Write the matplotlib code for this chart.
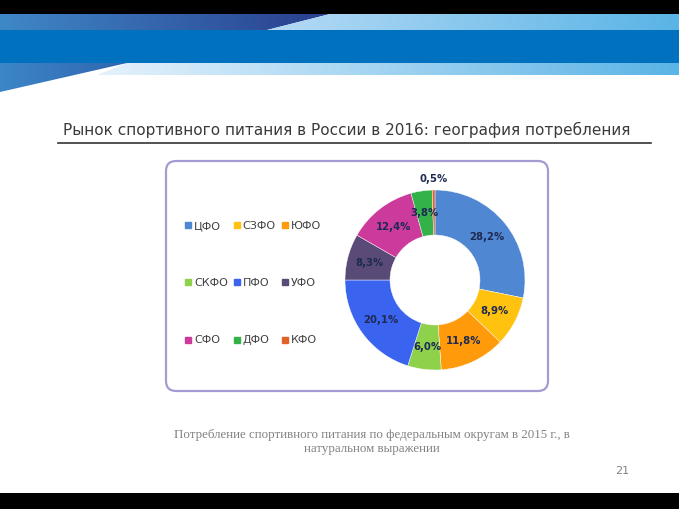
import numpy as np
import matplotlib
matplotlib.use("Agg")
import matplotlib.pyplot as plt
from matplotlib.patches import Polygon, Rectangle, FancyBboxPatch
from matplotlib.lines import Line2D

regions = ["ЦФО", "СЗФО", "ЮФО", "СКФО", "ПФО", "УФО", "СФО", "ДФО", "КФО"]
shares = [28.2, 8.9, 11.8, 6.0, 20.1, 8.3, 12.4, 3.8, 0.5]
colors = ["#4F87D2", "#FFC20E", "#FF9A0A", "#8ED14B", "#3A63F0",
          "#5A4A78", "#CC3A9C", "#34B24A", "#E2632A"]
title = "Рынок спортивного питания в России в 2016: география потребления"
caption = ("Потребление спортивного питания по федеральным округам в 2015 г., в\n"
           "натуральном выражении")
page_no = "21"

W, H = 679, 509
fig = plt.figure(figsize=(W / 100, H / 100), dpi=100)
fig.patch.set_facecolor("white")

bg = fig.add_axes([0, 0, 1, 1])
bg.set_xlim(0, W)
bg.set_ylim(H, 0)
bg.axis("off")

def grad_fill(poly_pts, c0, c1, x0, x1):
    poly = Polygon(poly_pts, closed=True, facecolor="none", edgecolor="none")
    bg.add_patch(poly)
    g = np.linspace(0, 1, 256)[None, :, None]
    a = np.array(matplotlib.colors.to_rgb(c0))[None, None, :]
    b = np.array(matplotlib.colors.to_rgb(c1))[None, None, :]
    img = a * (1 - g) + b * g
    ys = [p[1] for p in poly_pts]
    im = bg.imshow(img, extent=[x0, x1, max(ys), min(ys)], aspect="auto",
                   interpolation="bilinear", zorder=1)
    im.set_clip_path(poly)

# header
bg.add_patch(Rectangle((0, 0), W, 14, facecolor="black", edgecolor="none", zorder=2))
grad_fill([(0, 14), (330, 14), (267, 30), (0, 30)], "#3F88C8", "#2A3F8E", 0, 330)
grad_fill([(330, 14), (W, 14), (W, 30), (267, 30)], "#B5DAF5", "#5AB4E6", 267, W)
bg.add_patch(Rectangle((0, 30), W, 33, facecolor="#0071BE", edgecolor="none", zorder=2))
grad_fill([(127, 63), (W, 63), (W, 75), (97, 75)], "#E6F2FC", "#5AB4E6", 97, W)
grad_fill([(0, 63), (127, 63), (0, 92)], "#3D86C8", "#2F66B0", 0, 127)

# footer
bg.add_patch(Rectangle((0, 493), W, 16, facecolor="black", edgecolor="none", zorder=2))

# title and rule
bg.text(63, 130, title, fontsize=11, color="#3A3A3A", va="center", ha="left",
        family="DejaVu Sans", zorder=3)
bg.plot([58, 651], [143, 143], color="#333333", lw=1.2, zorder=3)

# chart frame
bg.add_patch(FancyBboxPatch((166, 161), 382, 230,
                            boxstyle="round,pad=0,rounding_size=10",
                            facecolor="white", edgecolor="#A39CD2", lw=1.6, zorder=2))

# caption and page number
bg.text(372, 442, caption, fontsize=9.3, color="#808080", ha="center", va="center",
        family="Liberation Serif", linespacing=1.25, zorder=3)
bg.text(622, 471, page_no, fontsize=8, color="#808080", ha="center", va="center", zorder=3)

# donut
cx, cy, R = 435, 280, 90
half = 100
ax = fig.add_axes([(cx - half) / W, (H - cy - half) / H, 2 * half / W, 2 * half / H])

def fmt(p):
    return f"{p:.1f}".replace(".", ",") + "%"

wedges, texts, autotexts = ax.pie(
    shares, colors=colors, startangle=90, counterclock=False, radius=1,
    wedgeprops=dict(width=0.5, edgecolor="white", linewidth=0.3),
    autopct=fmt, pctdistance=0.75,
    textprops=dict(fontsize=7.3, fontweight="bold", color="#1E2A52"))
ax.set_xlim(-half / R, half / R)
ax.set_ylim(-half / R, half / R)
ax.axis("off")
# tiny slice label outside
for i, t in enumerate(autotexts):
    if shares[i] < 1:
        x, y = t.get_position()
        t.set_position((x / 0.75 * 1.12, y / 0.75 * 1.12))

# legend
order = [0, 3, 6, 1, 4, 7, 2, 5, 8]
handles = [Line2D([], [], marker="s", linestyle="none", markersize=4,
                  markerfacecolor=colors[i], markeredgecolor=colors[i]) for i in order]
labels = [regions[i] for i in order]
fig.legend(handles, labels, ncol=3, loc="upper left",
           bbox_to_anchor=(185 / W, 1 - 221 / H), frameon=False,
           fontsize=8, labelcolor="#404040", handlelength=0.5, handletextpad=0.3,
           columnspacing=0.55, labelspacing=4.25, borderaxespad=0, borderpad=0)

fig.savefig("out.png", dpi=100)
